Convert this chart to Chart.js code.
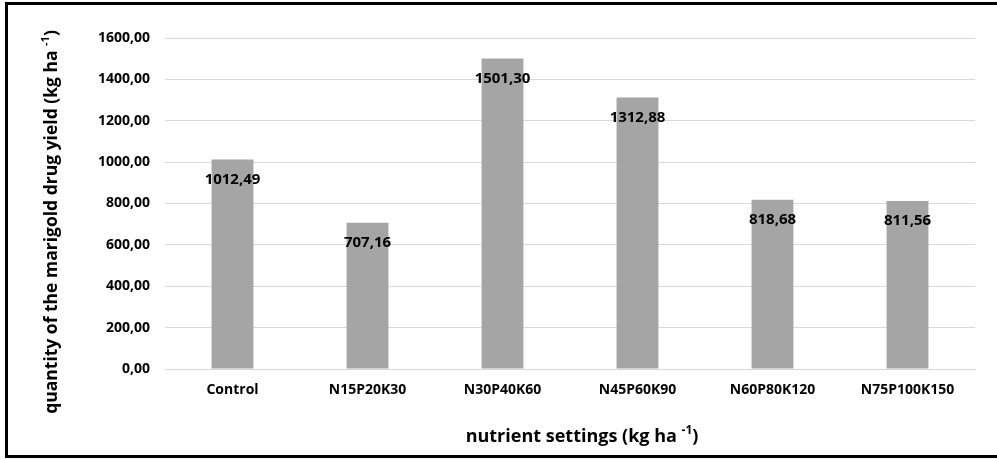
<!DOCTYPE html>
<html>
<head>
<meta charset="utf-8">
<script src="https://cdn.jsdelivr.net/npm/chart.js@4.4.0/dist/chart.umd.min.js"></script>
<style>
  html, body { margin: 0; padding: 0; background: #fff; }
  #wrap { position: relative; width: 997px; height: 459px; overflow: hidden; }
  #frame { position: absolute; left: 5px; top: 2px; width: 1000px; height: 450px;
           border: 3px solid #000; border-right: none; pointer-events: none; }
  canvas { position: absolute; left: 0; top: 0; }
</style>
</head>
<body>
<div id="wrap">
  <canvas id="c" width="997" height="459"></canvas>
  <div id="frame"></div>
</div>
<script>
// Nutrient treatments and marigold drug yield (kg/ha)
const categories = ['Control', 'N15P20K30', 'N30P40K60', 'N45P60K90', 'N60P80K120', 'N75P100K150'];
const yieldValues = [1012.49, 707.16, 1501.30, 1312.88, 818.68, 811.56];
const yTickValues = [0, 200, 400, 600, 800, 1000, 1200, 1400, 1600];

const FONT = '"Open Sans", sans-serif';
const fmt = v => v.toFixed(2).replace('.', ',');

// Value labels just inside the top of each bar
const barLabels = {
  id: 'barLabels',
  afterDatasetsDraw(chart) {
    const ctx = chart.ctx;
    const meta = chart.getDatasetMeta(0);
    ctx.save();
    ctx.font = 'bold 15px ' + FONT;
    ctx.fillStyle = '#000';
    ctx.textAlign = 'center';
    ctx.textBaseline = 'middle';
    meta.data.forEach((bar, i) => {
      ctx.fillText(fmt(yieldValues[i]), bar.x, bar.y + 20);
    });
    ctx.restore();
  }
};

// Draws text with a trailing superscript part
function drawWithSup(ctx, main, sup, tail, x, y, size) {
  const mainFont = 'bold ' + size + 'px ' + FONT;
  const supFont = 'bold ' + Math.round(size * 0.65) + 'px ' + FONT;
  ctx.font = mainFont;
  const w1 = ctx.measureText(main).width;
  const w3 = ctx.measureText(tail).width;
  ctx.font = supFont;
  const w2 = ctx.measureText(sup).width;
  const total = w1 + w2 + w3;
  let sx = x - total / 2;
  ctx.textAlign = 'left';
  ctx.textBaseline = 'middle';
  ctx.font = mainFont;
  ctx.fillText(main, sx, y);
  ctx.font = supFont;
  ctx.fillText(sup, sx + w1, y - size * 0.35);
  ctx.font = mainFont;
  ctx.fillText(tail, sx + w1 + w2, y);
}

const axisTitles = {
  id: 'axisTitles',
  afterDraw(chart) {
    const ctx = chart.ctx;
    ctx.save();
    ctx.fillStyle = '#000';
    drawWithSup(ctx, 'nutrient settings (kg ha ', '-1', ')', 582, 437, 18);
    ctx.translate(52, 222);
    ctx.rotate(-Math.PI / 2);
    drawWithSup(ctx, 'quantity of the marigold drug yield (kg ha ', '-1', ')', 0, 0, 17.5);
    ctx.restore();
  }
};

new Chart(document.getElementById('c'), {
  type: 'bar',
  data: {
    labels: categories,
    datasets: [{
      data: yieldValues,
      backgroundColor: '#A5A5A5',
      borderWidth: 0,
      categoryPercentage: 1,
      barPercentage: 0.31
    }]
  },
  options: {
    responsive: false,
    animation: false,
    layout: { padding: { left: 0, right: 22, top: 38, bottom: 0 } },
    plugins: { legend: { display: false }, tooltip: { enabled: false } },
    scales: {
      x: {
        grid: { display: false, drawTicks: false },
        border: { display: true, color: '#D9D9D9', width: 1 },
        ticks: { color: '#000', font: { family: FONT, size: 14, weight: 'bold' }, padding: 13, maxRotation: 0 },
        afterFit(s) { s.height = 90; }
      },
      y: {
        min: 0, max: 1600,
        afterBuildTicks(s) { s.ticks = yTickValues.map(v => ({ value: v })); },
        grid: { color: '#D9D9D9', drawTicks: false },
        border: { display: false },
        ticks: { color: '#000', font: { family: FONT, size: 14, weight: 'bold' }, padding: 15,
                 callback: v => fmt(v) },
        afterFit(s) { s.width = 165; }
      }
    }
  },
  plugins: [barLabels, axisTitles]
});
</script>
</body>
</html>
